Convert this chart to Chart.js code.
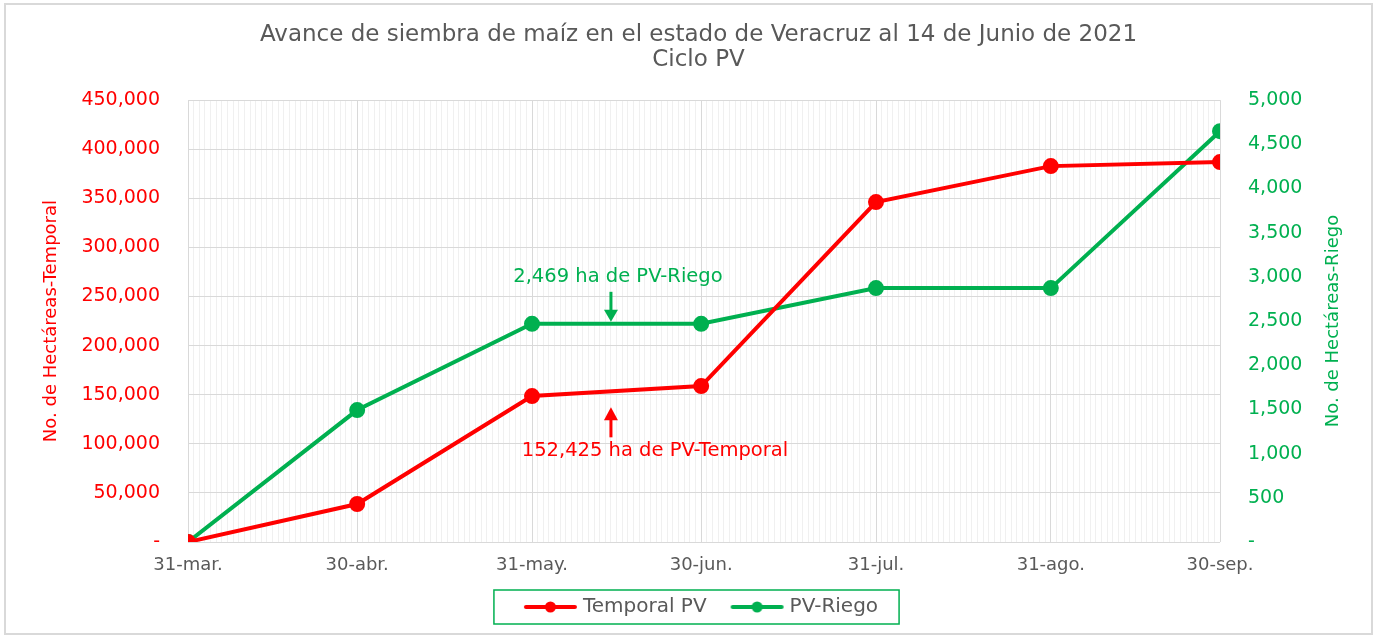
<!DOCTYPE html>
<html><head><meta charset="utf-8">
<script src="https://cdn.jsdelivr.net/npm/chart.js@4.4.0/dist/chart.umd.min.js"></script>
<style>
html,body{margin:0;padding:0;background:#fff;}
#frame{position:absolute;left:4px;top:3px;width:1369px;height:632px;border:2px solid #d9d9d9;box-sizing:border-box;}
#wrap{position:absolute;left:0;top:0;width:1379px;height:637px;}
</style></head><body>
<div id="frame"></div>
<div id="wrap"><canvas id="c" width="1379" height="637"></canvas></div>
<script>
// ---- data ----
const dates = ['2021-03-31','2021-04-30','2021-05-31','2021-06-30','2021-07-31','2021-08-31','2021-09-30'];
const tickLabels = ['31-mar.','30-abr.','31-may.','30-jun.','31-jul.','31-ago.','30-sep.'];
const temporalPV = [0, 38700, 148600, 158800, 346200, 382800, 386900];
const riegoPV = [0, 1493, 2469, 2469, 2873, 2873, 4649];
const annotDate = '2021-06-14';
const annotRiego = 2469;
const annotTemporal = 152425;
const annotRiegoText = '2,469 ha de PV-Riego';
const annotTemporalText = '152,425 ha de PV-Temporal';
const seriesNames = ['Temporal PV', 'PV-Riego'];
const titleLines = ['Avance de siembra de maíz en el estado de Veracruz al 14 de Junio de 2021', 'Ciclo PV'];
const leftAxisTitle = 'No. de Hectáreas-Temporal';
const rightAxisTitle = 'No. de Hectáreas-Riego';

const RED = '#ff0000', GREEN = '#00b050', GRAY = '#595959';
const FONT = "'DejaVu Sans', sans-serif";

const day0 = Date.parse(dates[0]);
const toDay = d => Math.round((Date.parse(d) - day0) / 86400000);
const dayOffsets = dates.map(toDay);
const annotDay = toDay(annotDate);
const lastDay = dayOffsets[dayOffsets.length - 1];

function legendIcon(color) {
  const cv = document.createElement('canvas');
  cv.width = 64; cv.height = 14;
  const g = cv.getContext('2d');
  g.strokeStyle = color; g.lineWidth = 4; g.lineCap = 'round';
  g.beginPath(); g.moveTo(12, 7); g.lineTo(61, 7); g.stroke();
  g.fillStyle = color; g.beginPath(); g.arc(36.5, 7, 5.5, 0, Math.PI * 2); g.fill();
  return cv;
}
const icons = [legendIcon(RED), legendIcon(GREEN)];

const fmt = v => v === 0 ? '-' : v.toLocaleString('en-US');

const annotPlugin = {
  id: 'annot',
  afterDatasetsDraw(chart) {
    const ctx = chart.ctx;
    const xs = chart.scales.x, y = chart.scales.y, y1 = chart.scales.y1;
    const ax = xs.getPixelForValue(annotDay);
    ctx.save();
    ctx.font = "19.5px " + FONT;
    ctx.textAlign = 'center'; ctx.textBaseline = 'middle';
    // Riego (down arrow)
    const yr = y1.getPixelForValue(annotRiego);
    ctx.strokeStyle = GREEN; ctx.fillStyle = GREEN; ctx.lineWidth = 3;
    ctx.beginPath(); ctx.moveTo(ax, yr - 32); ctx.lineTo(ax, yr - 12); ctx.stroke();
    ctx.beginPath(); ctx.moveTo(ax - 7, yr - 14); ctx.lineTo(ax + 7, yr - 14); ctx.lineTo(ax, yr - 2); ctx.closePath(); ctx.fill();
    ctx.fillText(annotRiegoText, ax + 7, yr - 47);
    // Temporal (up arrow)
    const yt = y.getPixelForValue(annotTemporal);
    ctx.strokeStyle = RED; ctx.fillStyle = RED;
    ctx.beginPath(); ctx.moveTo(ax, yt + 45); ctx.lineTo(ax, yt + 26); ctx.stroke();
    ctx.beginPath(); ctx.moveTo(ax - 7, yt + 28); ctx.lineTo(ax + 7, yt + 28); ctx.lineTo(ax, yt + 15); ctx.closePath(); ctx.fill();
    ctx.fillText(annotTemporalText, ax + 44, yt + 59);
    ctx.restore();
  },
  afterDraw(chart) {
    const ctx = chart.ctx;
    // right axis title, reading bottom-to-top
    const ca = chart.chartArea;
    ctx.save();
    ctx.translate(1333, (ca.top + ca.bottom) / 2);
    ctx.rotate(-Math.PI / 2);
    ctx.font = "18px " + FONT; ctx.fillStyle = GREEN;
    ctx.textAlign = 'center'; ctx.textBaseline = 'middle';
    ctx.fillText(rightAxisTitle, 0, 0);
    ctx.restore();
    // legend frame
    const lg = chart.legend;
    if (!lg || !lg.legendHitBoxes || !lg.legendHitBoxes.length) return;
    const hb = lg.legendHitBoxes;
    const l = Math.min(...hb.map(b => b.left)) - 25;
    const r = Math.max(...hb.map(b => b.left + b.width)) + 21;
    const t = Math.min(...hb.map(b => b.top)) - 7;
    const bt = Math.max(...hb.map(b => b.top + b.height)) + 7;
    ctx.save(); ctx.strokeStyle = GREEN; ctx.lineWidth = 1.5;
    ctx.strokeRect(l, t, r - l, bt - t);
    ctx.restore();
  }
};

new Chart(document.getElementById('c'), {
  type: 'line',
  data: {
    datasets: [
      { label: seriesNames[0], data: dayOffsets.map((d, i) => ({ x: d, y: temporalPV[i] })), yAxisID: 'y',
        borderColor: RED, backgroundColor: RED, borderWidth: 4, pointRadius: 6, pointHoverRadius: 6 },
      { label: seriesNames[1], data: dayOffsets.map((d, i) => ({ x: d, y: riegoPV[i] })), yAxisID: 'y1',
        borderColor: GREEN, backgroundColor: GREEN, borderWidth: 4, pointRadius: 6, pointHoverRadius: 6 }
    ]
  },
  options: {
    responsive: false, animation: false, devicePixelRatio: 1,
    layout: { padding: { left: 30, right: 12, top: 0, bottom: 10 } },
    plugins: {
      title: { display: true, text: titleLines,
        color: GRAY, font: { family: FONT, size: 23, weight: 'normal', lineHeight: 1.09 }, padding: { top: 22, bottom: 28 } },
      legend: { position: 'bottom',
        labels: { color: GRAY, font: { family: FONT, size: 20 }, usePointStyle: true, pointStyleWidth: 54, padding: 19,
          generateLabels: chart => chart.data.datasets.map((ds, i) => ({ text: ds.label, pointStyle: icons[i], datasetIndex: i, fontColor: GRAY, lineWidth: 0, strokeStyle: 'transparent', fillStyle: 'transparent' })) } },
      tooltip: { enabled: false }
    },
    scales: {
      x: { type: 'linear', min: 0, max: lastDay,
        afterFit: s => { s.height = 36; },
        grid: { drawTicks: false, color: c => dayOffsets.includes(c.tick.value) ? '#d9d9d9' : '#f0f0f0', lineWidth: 1 },
        border: { display: false },
        ticks: { stepSize: 1, autoSkip: false, maxRotation: 0, padding: 13, color: GRAY, font: { family: FONT, size: 18 },
          callback: v => { const i = dayOffsets.indexOf(v); return i >= 0 ? tickLabels[i] : ''; } } },
      y: { position: 'left', min: 0, max: 450000,
        afterFit: s => { s.width = 158; },
        grid: { drawTicks: false, color: '#d9d9d9' }, border: { display: false },
        ticks: { stepSize: 50000, padding: 28, color: RED, font: { family: FONT, size: 19 }, callback: fmt },
        title: { display: true, text: leftAxisTitle, color: RED, font: { family: FONT, size: 18 }, padding: { top: 11, bottom: 0 } } },
      y1: { position: 'right', min: 0, max: 5000,
        afterFit: s => { s.width = 147; },
        grid: { drawOnChartArea: false, drawTicks: false }, border: { display: false },
        ticks: { stepSize: 500, padding: 28, color: GREEN, font: { family: FONT, size: 19 }, callback: fmt },
        title: { display: false } }
    }
  },
  plugins: [annotPlugin]
});
</script>
</body></html>
